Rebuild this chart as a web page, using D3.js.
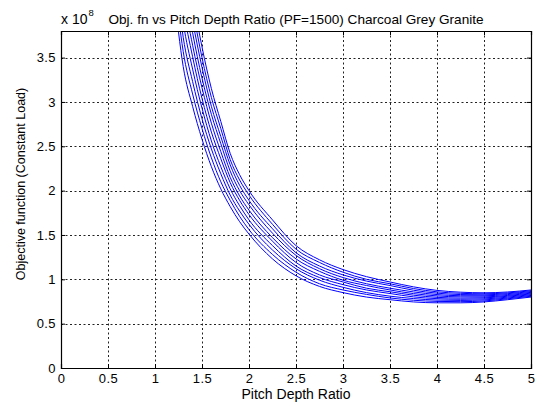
<!DOCTYPE html>
<html>
<head>
<meta charset="utf-8">
<script src="https://cdn.jsdelivr.net/npm/d3@7"></script>
<style>
  body { margin: 0; background: #fff; }
  svg { display: block; font-family: "Liberation Sans", Arial, sans-serif; }
  .axis path { stroke: #000; }
  .axis line { stroke: #000; }
  .axis text { font-size: 13px; fill: #000; letter-spacing: 0.4px; }
  .grid line { stroke: #222; stroke-dasharray: 2,2.5; stroke-width: 1; }
</style>
</head>
<body>
<div id="chart"></div>
<script>
// pitch depth ratio sample points
const ratio = [1.2, 1.3, 1.4, 1.5, 1.6, 1.7, 1.8, 1.9, 2.0, 2.25, 2.5, 2.75, 3.0, 3.25, 3.5, 3.75, 4.0, 4.25, 4.5, 4.75, 5.0];

// objective function (x 10^8), one array per curve
const obj1  = [4.25, 3.40, 2.95, 2.58, 2.27, 2.02, 1.82, 1.65, 1.51, 1.23, 1.04, 0.92, 0.85, 0.80, 0.77, 0.745, 0.735, 0.735, 0.745, 0.770, 0.800];
const obj2  = [4.43, 3.57, 3.09, 2.70, 2.37, 2.10, 1.89, 1.71, 1.56, 1.28, 1.08, 0.95, 0.88, 0.83, 0.79, 0.764, 0.751, 0.748, 0.756, 0.780, 0.809];
const obj3  = [4.62, 3.73, 3.23, 2.81, 2.47, 2.19, 1.95, 1.77, 1.62, 1.33, 1.12, 0.99, 0.91, 0.85, 0.81, 0.783, 0.766, 0.762, 0.768, 0.789, 0.818];
const obj4  = [4.80, 3.90, 3.37, 2.93, 2.56, 2.27, 2.02, 1.83, 1.67, 1.38, 1.15, 1.02, 0.94, 0.88, 0.84, 0.802, 0.782, 0.775, 0.779, 0.799, 0.827];
const obj5  = [4.98, 4.07, 3.51, 3.04, 2.66, 2.36, 2.09, 1.89, 1.73, 1.43, 1.19, 1.05, 0.97, 0.90, 0.86, 0.821, 0.797, 0.788, 0.791, 0.809, 0.836];
const obj6  = [5.17, 4.23, 3.64, 3.16, 2.76, 2.44, 2.15, 1.94, 1.78, 1.47, 1.23, 1.09, 0.99, 0.93, 0.88, 0.839, 0.813, 0.802, 0.802, 0.818, 0.844];
const obj7  = [5.35, 4.40, 3.78, 3.27, 2.86, 2.53, 2.22, 2.00, 1.84, 1.52, 1.27, 1.12, 1.02, 0.95, 0.90, 0.858, 0.828, 0.815, 0.814, 0.828, 0.853];
const obj8  = [5.53, 4.57, 3.92, 3.39, 2.95, 2.61, 2.29, 2.06, 1.89, 1.57, 1.30, 1.15, 1.05, 0.98, 0.93, 0.877, 0.844, 0.828, 0.825, 0.838, 0.862];
const obj9  = [5.72, 4.73, 4.06, 3.50, 3.05, 2.70, 2.35, 2.12, 1.95, 1.62, 1.34, 1.19, 1.08, 1.00, 0.95, 0.896, 0.859, 0.842, 0.837, 0.847, 0.871];
const obj10 = [5.90, 4.90, 4.20, 3.62, 3.15, 2.78, 2.42, 2.18, 2.00, 1.67, 1.38, 1.22, 1.11, 1.03, 0.97, 0.915, 0.875, 0.855, 0.848, 0.857, 0.880];

const xTicks = [0, 0.5, 1, 1.5, 2, 2.5, 3, 3.5, 4, 4.5, 5];
const yTicks = [0, 0.5, 1, 1.5, 2, 2.5, 3, 3.5];

const titleText = "Obj. fn vs Pitch Depth Ratio (PF=1500) Charcoal Grey Granite";
const xLabel = "Pitch Depth Ratio";
const yLabel = "Objective function (Constant Load)";

const curves = [obj1, obj2, obj3, obj4, obj5, obj6, obj7, obj8, obj9, obj10];

let margin = {top: 31, right: 5, bottom: 35, left: 61};
let width = 536 - margin.left - margin.right;
let height = 403 - margin.top - margin.bottom;

let svg = d3.select("#chart").append("svg")
    .attr("width", 536)
    .attr("height", 403);

let g = svg.append("g")
    .attr("transform", "translate(" + margin.left + "," + margin.top + ")");

let x = d3.scaleLinear().domain([0, 5]).range([0, width]);
let y = d3.scaleLinear().domain([0, 3.8]).range([height, 0]);

// clip
g.append("defs").append("clipPath")
    .attr("id", "clip")
    .append("rect")
    .attr("width", width)
    .attr("height", height);

// grid (dotted, matlab style)
let grid = g.append("g").attr("class", "grid");
grid.selectAll(".vx")
    .data(xTicks.slice(1, -1))
    .enter().append("line")
    .attr("x1", d => Math.round(x(d)) + 0.5)
    .attr("x2", d => Math.round(x(d)) + 0.5)
    .attr("y1", 0)
    .attr("y2", height);
grid.selectAll(".hy")
    .data(yTicks.slice(1))
    .enter().append("line")
    .attr("y1", d => Math.round(y(d)) + 0.5)
    .attr("y2", d => Math.round(y(d)) + 0.5)
    .attr("x1", 0)
    .attr("x2", width);

// curves
let line = d3.line()
    .x((d, i) => x(ratio[i]))
    .y(d => y(d))
    .curve(d3.curveMonotoneX);

g.append("g")
    .attr("clip-path", "url(#clip)")
    .selectAll("path")
    .data(curves)
    .enter().append("path")
    .attr("d", line)
    .attr("fill", "none")
    .attr("stroke", "#0000ff")
    .attr("stroke-width", 1);

// axes
let xAxis = d3.axisBottom(x).tickValues(xTicks).tickSize(-4).tickPadding(6).tickFormat(d3.format("~g"));
let yAxis = d3.axisLeft(y).tickValues(yTicks).tickSize(-4).tickPadding(5).tickFormat(d3.format("~g"));

g.append("g")
    .attr("class", "axis x-axis")
    .attr("transform", "translate(0," + height + ")")
    .call(xAxis);
g.append("g")
    .attr("class", "axis y-axis")
    .call(yAxis);
g.append("g")
    .attr("class", "axis")
    .call(d3.axisTop(x).tickValues(xTicks).tickSize(-4).tickFormat(""));
g.append("g")
    .attr("class", "axis")
    .attr("transform", "translate(" + width + ",0)")
    .call(d3.axisRight(y).tickValues(yTicks).tickSize(-4).tickFormat(""));

g.selectAll(".axis .domain").attr("stroke-width", 1.2);

// title
svg.append("text")
    .attr("x", margin.left + width / 2)
    .attr("y", 24)
    .attr("text-anchor", "middle")
    .style("font-size", "13.6px")
    .text(titleText);

// exponent label
let expo = svg.append("text")
    .attr("x", margin.left)
    .attr("y", 24)
    .style("font-size", "14px");
expo.append("tspan").text("x 10");
expo.append("tspan").attr("dy", -8).attr("dx", 1).style("font-size", "9.5px").text("8");

// axis labels
svg.append("text")
    .attr("x", margin.left + width / 2)
    .attr("y", 399)
    .attr("text-anchor", "middle")
    .style("font-size", "14px")
    .text(xLabel);

svg.append("text")
    .attr("transform", "translate(25,184) rotate(-90)")
    .attr("text-anchor", "middle")
    .style("font-size", "12.5px")
    .text(yLabel);
</script>
</body>
</html>
